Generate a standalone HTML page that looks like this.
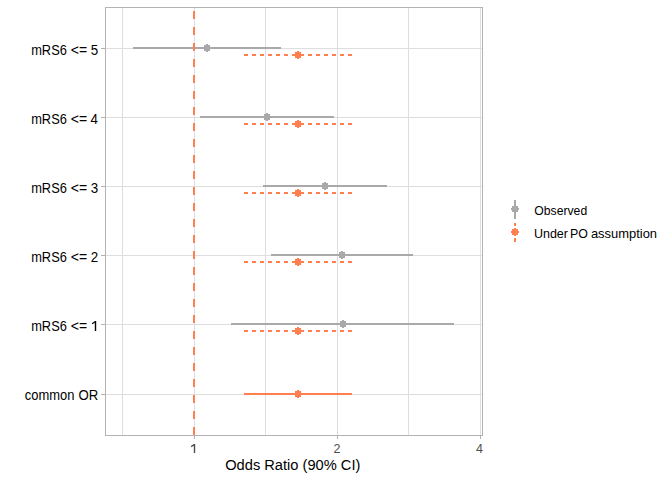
<!DOCTYPE html>
<html><head><meta charset="utf-8"><style>
html,body{margin:0;padding:0;background:#fff;}
svg{display:block;}
text{font-family:"Liberation Sans",sans-serif;}
</style></head><body>
<svg width="672" height="480" viewBox="0 0 672 480">
<rect x="0" y="0" width="672" height="480" fill="#fff"/>
<g shape-rendering="crispEdges">
<rect x="122" y="7" width="1" height="429" fill="#DEDEDE"/>
<rect x="194" y="7" width="1" height="429" fill="#DEDEDE"/>
<rect x="265" y="7" width="1" height="429" fill="#DEDEDE"/>
<rect x="337" y="7" width="1" height="429" fill="#DEDEDE"/>
<rect x="408" y="7" width="1" height="429" fill="#DEDEDE"/>
<rect x="480" y="7" width="1" height="429" fill="#DEDEDE"/>
<rect x="105" y="48" width="378" height="1" fill="#DEDEDE"/>
<rect x="105" y="117" width="378" height="1" fill="#DEDEDE"/>
<rect x="105" y="186" width="378" height="1" fill="#DEDEDE"/>
<rect x="105" y="255" width="378" height="1" fill="#DEDEDE"/>
<rect x="105" y="324" width="378" height="1" fill="#DEDEDE"/>
<rect x="105" y="394" width="378" height="1" fill="#DEDEDE"/>
<rect x="105" y="7" width="378" height="1" fill="#B3B3B3"/>
<rect x="105" y="435" width="378" height="1" fill="#B3B3B3"/>
<rect x="105" y="7" width="1" height="429" fill="#B3B3B3"/>
<rect x="482" y="7" width="1" height="429" fill="#B3B3B3"/>
<rect x="101" y="48" width="4" height="1" fill="#B3B3B3"/>
<rect x="101" y="117" width="4" height="1" fill="#B3B3B3"/>
<rect x="101" y="186" width="4" height="1" fill="#B3B3B3"/>
<rect x="101" y="255" width="4" height="1" fill="#B3B3B3"/>
<rect x="101" y="324" width="4" height="1" fill="#B3B3B3"/>
<rect x="101" y="394" width="4" height="1" fill="#B3B3B3"/>
<rect x="194" y="436" width="1" height="3" fill="#B3B3B3"/>
<rect x="337" y="436" width="1" height="3" fill="#B3B3B3"/>
<rect x="480" y="436" width="1" height="3" fill="#B3B3B3"/>
<rect x="133" y="47" width="148" height="2" fill="#A9A9A9"/>
<rect x="204" y="45" width="6" height="6" fill="#A9A9A9"/><rect x="203" y="47" width="8" height="2" fill="#A9A9A9"/><rect x="206" y="44" width="2" height="8" fill="#A9A9A9"/><rect x="205" y="46" width="4" height="4" fill="#A9A9A9"/>
<rect x="200" y="116" width="134" height="2" fill="#A9A9A9"/>
<rect x="264" y="114" width="6" height="6" fill="#A9A9A9"/><rect x="263" y="116" width="8" height="2" fill="#A9A9A9"/><rect x="266" y="113" width="2" height="8" fill="#A9A9A9"/><rect x="265" y="115" width="4" height="4" fill="#A9A9A9"/>
<rect x="263" y="185" width="124" height="2" fill="#A9A9A9"/>
<rect x="322" y="183" width="6" height="6" fill="#A9A9A9"/><rect x="321" y="185" width="8" height="2" fill="#A9A9A9"/><rect x="324" y="182" width="2" height="8" fill="#A9A9A9"/><rect x="323" y="184" width="4" height="4" fill="#A9A9A9"/>
<rect x="271" y="254" width="142" height="2" fill="#A9A9A9"/>
<rect x="339" y="252" width="6" height="6" fill="#A9A9A9"/><rect x="338" y="254" width="8" height="2" fill="#A9A9A9"/><rect x="341" y="251" width="2" height="8" fill="#A9A9A9"/><rect x="340" y="253" width="4" height="4" fill="#A9A9A9"/>
<rect x="231" y="323" width="223" height="2" fill="#A9A9A9"/>
<rect x="340" y="321" width="6" height="6" fill="#A9A9A9"/><rect x="339" y="323" width="8" height="2" fill="#A9A9A9"/><rect x="342" y="320" width="2" height="8" fill="#A9A9A9"/><rect x="341" y="322" width="4" height="4" fill="#A9A9A9"/>
<rect x="244" y="54" width="4" height="2" fill="#FF7F50"/>
<rect x="252" y="54" width="4" height="2" fill="#FF7F50"/>
<rect x="260" y="54" width="4" height="2" fill="#FF7F50"/>
<rect x="268" y="54" width="4" height="2" fill="#FF7F50"/>
<rect x="276" y="54" width="4" height="2" fill="#FF7F50"/>
<rect x="284" y="54" width="4" height="2" fill="#FF7F50"/>
<rect x="292" y="54" width="4" height="2" fill="#FF7F50"/>
<rect x="300" y="54" width="4" height="2" fill="#FF7F50"/>
<rect x="308" y="54" width="4" height="2" fill="#FF7F50"/>
<rect x="316" y="54" width="4" height="2" fill="#FF7F50"/>
<rect x="324" y="54" width="4" height="2" fill="#FF7F50"/>
<rect x="332" y="54" width="4" height="2" fill="#FF7F50"/>
<rect x="340" y="54" width="4" height="2" fill="#FF7F50"/>
<rect x="348" y="54" width="4" height="2" fill="#FF7F50"/>
<rect x="295" y="52" width="6" height="6" fill="#FF7F50"/><rect x="294" y="54" width="8" height="2" fill="#FF7F50"/><rect x="297" y="51" width="2" height="8" fill="#FF7F50"/><rect x="296" y="53" width="4" height="4" fill="#FF7F50"/>
<rect x="244" y="123" width="4" height="2" fill="#FF7F50"/>
<rect x="252" y="123" width="4" height="2" fill="#FF7F50"/>
<rect x="260" y="123" width="4" height="2" fill="#FF7F50"/>
<rect x="268" y="123" width="4" height="2" fill="#FF7F50"/>
<rect x="276" y="123" width="4" height="2" fill="#FF7F50"/>
<rect x="284" y="123" width="4" height="2" fill="#FF7F50"/>
<rect x="292" y="123" width="4" height="2" fill="#FF7F50"/>
<rect x="300" y="123" width="4" height="2" fill="#FF7F50"/>
<rect x="308" y="123" width="4" height="2" fill="#FF7F50"/>
<rect x="316" y="123" width="4" height="2" fill="#FF7F50"/>
<rect x="324" y="123" width="4" height="2" fill="#FF7F50"/>
<rect x="332" y="123" width="4" height="2" fill="#FF7F50"/>
<rect x="340" y="123" width="4" height="2" fill="#FF7F50"/>
<rect x="348" y="123" width="4" height="2" fill="#FF7F50"/>
<rect x="295" y="121" width="6" height="6" fill="#FF7F50"/><rect x="294" y="123" width="8" height="2" fill="#FF7F50"/><rect x="297" y="120" width="2" height="8" fill="#FF7F50"/><rect x="296" y="122" width="4" height="4" fill="#FF7F50"/>
<rect x="244" y="192" width="4" height="2" fill="#FF7F50"/>
<rect x="252" y="192" width="4" height="2" fill="#FF7F50"/>
<rect x="260" y="192" width="4" height="2" fill="#FF7F50"/>
<rect x="268" y="192" width="4" height="2" fill="#FF7F50"/>
<rect x="276" y="192" width="4" height="2" fill="#FF7F50"/>
<rect x="284" y="192" width="4" height="2" fill="#FF7F50"/>
<rect x="292" y="192" width="4" height="2" fill="#FF7F50"/>
<rect x="300" y="192" width="4" height="2" fill="#FF7F50"/>
<rect x="308" y="192" width="4" height="2" fill="#FF7F50"/>
<rect x="316" y="192" width="4" height="2" fill="#FF7F50"/>
<rect x="324" y="192" width="4" height="2" fill="#FF7F50"/>
<rect x="332" y="192" width="4" height="2" fill="#FF7F50"/>
<rect x="340" y="192" width="4" height="2" fill="#FF7F50"/>
<rect x="348" y="192" width="4" height="2" fill="#FF7F50"/>
<rect x="295" y="190" width="6" height="6" fill="#FF7F50"/><rect x="294" y="192" width="8" height="2" fill="#FF7F50"/><rect x="297" y="189" width="2" height="8" fill="#FF7F50"/><rect x="296" y="191" width="4" height="4" fill="#FF7F50"/>
<rect x="244" y="261" width="4" height="2" fill="#FF7F50"/>
<rect x="252" y="261" width="4" height="2" fill="#FF7F50"/>
<rect x="260" y="261" width="4" height="2" fill="#FF7F50"/>
<rect x="268" y="261" width="4" height="2" fill="#FF7F50"/>
<rect x="276" y="261" width="4" height="2" fill="#FF7F50"/>
<rect x="284" y="261" width="4" height="2" fill="#FF7F50"/>
<rect x="292" y="261" width="4" height="2" fill="#FF7F50"/>
<rect x="300" y="261" width="4" height="2" fill="#FF7F50"/>
<rect x="308" y="261" width="4" height="2" fill="#FF7F50"/>
<rect x="316" y="261" width="4" height="2" fill="#FF7F50"/>
<rect x="324" y="261" width="4" height="2" fill="#FF7F50"/>
<rect x="332" y="261" width="4" height="2" fill="#FF7F50"/>
<rect x="340" y="261" width="4" height="2" fill="#FF7F50"/>
<rect x="348" y="261" width="4" height="2" fill="#FF7F50"/>
<rect x="295" y="259" width="6" height="6" fill="#FF7F50"/><rect x="294" y="261" width="8" height="2" fill="#FF7F50"/><rect x="297" y="258" width="2" height="8" fill="#FF7F50"/><rect x="296" y="260" width="4" height="4" fill="#FF7F50"/>
<rect x="244" y="330" width="4" height="2" fill="#FF7F50"/>
<rect x="252" y="330" width="4" height="2" fill="#FF7F50"/>
<rect x="260" y="330" width="4" height="2" fill="#FF7F50"/>
<rect x="268" y="330" width="4" height="2" fill="#FF7F50"/>
<rect x="276" y="330" width="4" height="2" fill="#FF7F50"/>
<rect x="284" y="330" width="4" height="2" fill="#FF7F50"/>
<rect x="292" y="330" width="4" height="2" fill="#FF7F50"/>
<rect x="300" y="330" width="4" height="2" fill="#FF7F50"/>
<rect x="308" y="330" width="4" height="2" fill="#FF7F50"/>
<rect x="316" y="330" width="4" height="2" fill="#FF7F50"/>
<rect x="324" y="330" width="4" height="2" fill="#FF7F50"/>
<rect x="332" y="330" width="4" height="2" fill="#FF7F50"/>
<rect x="340" y="330" width="4" height="2" fill="#FF7F50"/>
<rect x="348" y="330" width="4" height="2" fill="#FF7F50"/>
<rect x="295" y="328" width="6" height="6" fill="#FF7F50"/><rect x="294" y="330" width="8" height="2" fill="#FF7F50"/><rect x="297" y="327" width="2" height="8" fill="#FF7F50"/><rect x="296" y="329" width="4" height="4" fill="#FF7F50"/>
<rect x="244" y="393" width="108" height="2" fill="#FF7F50"/>
<rect x="295" y="391" width="6" height="6" fill="#FF7F50"/><rect x="294" y="393" width="8" height="2" fill="#FF7F50"/><rect x="297" y="390" width="2" height="8" fill="#FF7F50"/><rect x="296" y="392" width="4" height="4" fill="#FF7F50"/>
<rect x="193" y="11" width="2" height="8" fill="#FF7F50"/>
<rect x="193" y="27" width="2" height="8" fill="#FF7F50"/>
<rect x="193" y="43" width="2" height="8" fill="#FF7F50"/>
<rect x="193" y="59" width="2" height="8" fill="#FF7F50"/>
<rect x="193" y="75" width="2" height="8" fill="#FF7F50"/>
<rect x="193" y="91" width="2" height="8" fill="#FF7F50"/>
<rect x="193" y="107" width="2" height="8" fill="#FF7F50"/>
<rect x="193" y="123" width="2" height="8" fill="#FF7F50"/>
<rect x="193" y="139" width="2" height="8" fill="#FF7F50"/>
<rect x="193" y="155" width="2" height="8" fill="#FF7F50"/>
<rect x="193" y="171" width="2" height="8" fill="#FF7F50"/>
<rect x="193" y="187" width="2" height="8" fill="#FF7F50"/>
<rect x="193" y="203" width="2" height="8" fill="#FF7F50"/>
<rect x="193" y="219" width="2" height="8" fill="#FF7F50"/>
<rect x="193" y="235" width="2" height="8" fill="#FF7F50"/>
<rect x="193" y="251" width="2" height="8" fill="#FF7F50"/>
<rect x="193" y="267" width="2" height="8" fill="#FF7F50"/>
<rect x="193" y="283" width="2" height="8" fill="#FF7F50"/>
<rect x="193" y="299" width="2" height="8" fill="#FF7F50"/>
<rect x="193" y="315" width="2" height="8" fill="#FF7F50"/>
<rect x="193" y="331" width="2" height="8" fill="#FF7F50"/>
<rect x="193" y="347" width="2" height="8" fill="#FF7F50"/>
<rect x="193" y="363" width="2" height="8" fill="#FF7F50"/>
<rect x="193" y="379" width="2" height="8" fill="#FF7F50"/>
<rect x="193" y="395" width="2" height="8" fill="#FF7F50"/>
<rect x="193" y="411" width="2" height="8" fill="#FF7F50"/>
<rect x="193" y="427" width="2" height="8" fill="#FF7F50"/>
<rect x="514" y="200" width="2" height="19" fill="#A9A9A9"/>
<rect x="512" y="206" width="6" height="6" fill="#A9A9A9"/><rect x="511" y="208" width="8" height="2" fill="#A9A9A9"/><rect x="514" y="205" width="2" height="8" fill="#A9A9A9"/><rect x="513" y="207" width="4" height="4" fill="#A9A9A9"/>
<rect x="514" y="223" width="2" height="3" fill="#FF7F50"/>
<rect x="514" y="230" width="2" height="4" fill="#FF7F50"/>
<rect x="514" y="238" width="2" height="4" fill="#FF7F50"/>
<rect x="512" y="229" width="6" height="6" fill="#FF7F50"/><rect x="511" y="231" width="8" height="2" fill="#FF7F50"/><rect x="514" y="228" width="2" height="8" fill="#FF7F50"/><rect x="513" y="230" width="4" height="4" fill="#FF7F50"/>
</g>
<g>
<text transform="translate(31.186,55) scale(0.9302,1)" font-size="13.8" fill="#000">mRS6</text>
<text transform="translate(70.861,55) scale(1.0218,1)" font-size="13.8" fill="#000">&lt;=</text>
<text transform="translate(90.689,55) scale(0.9700,1)" font-size="13.8" fill="#000">5</text>
<text transform="translate(31.186,124) scale(0.9302,1)" font-size="13.8" fill="#000">mRS6</text>
<text transform="translate(70.861,124) scale(1.0218,1)" font-size="13.8" fill="#000">&lt;=</text>
<text transform="translate(90.567,124) scale(0.9700,1)" font-size="13.8" fill="#000">4</text>
<text transform="translate(31.186,193) scale(0.9302,1)" font-size="13.8" fill="#000">mRS6</text>
<text transform="translate(70.861,193) scale(1.0218,1)" font-size="13.8" fill="#000">&lt;=</text>
<text transform="translate(90.810,193) scale(0.9700,1)" font-size="13.8" fill="#000">3</text>
<text transform="translate(31.186,262) scale(0.9302,1)" font-size="13.8" fill="#000">mRS6</text>
<text transform="translate(70.861,262) scale(1.0218,1)" font-size="13.8" fill="#000">&lt;=</text>
<text transform="translate(90.810,262) scale(0.9700,1)" font-size="13.8" fill="#000">2</text>
<text transform="translate(31.186,331) scale(0.9302,1)" font-size="13.8" fill="#000">mRS6</text>
<text transform="translate(70.861,331) scale(1.0218,1)" font-size="13.8" fill="#000">&lt;=</text>
<text transform="translate(24.814,400) scale(0.9382,1)" font-size="13.8" fill="#000">common</text>
<text transform="translate(78.403,400) scale(0.9548,1)" font-size="13.8" fill="#000">OR</text>
<rect x="94.8" y="321" width="1.4" height="10" fill="#000"/><path d="M95.6 321.4 L92.1 323.7" stroke="#000" stroke-width="1.25" fill="none"/>
<rect x="193.8" y="444" width="1.4" height="9" fill="#4D4D4D"/><path d="M194.6 444.4 L191.1 446.6" stroke="#4D4D4D" stroke-width="1.25" fill="none"/>
<text x="337" y="453" text-anchor="middle" font-size="12.5" fill="#4D4D4D">2</text>
<text x="479.5" y="453" text-anchor="middle" font-size="12.5" fill="#4D4D4D">4</text>
<text x="225.2" y="470" font-size="14.67" fill="#000">Odds Ratio (90% CI)</text>
<text transform="translate(534.290,215) scale(0.9763,1)" font-size="12.5" fill="#000">Observed</text>
<text transform="translate(533.899,238) scale(1.0008,1)" font-size="12.5" fill="#000">Under</text>
<text transform="translate(569.912,238) scale(0.9879,1)" font-size="12.5" fill="#000">PO</text>
<text transform="translate(590.882,238) scale(1.0363,1)" font-size="12.5" fill="#000">assumption</text>
</g>
</svg>
</body></html>
